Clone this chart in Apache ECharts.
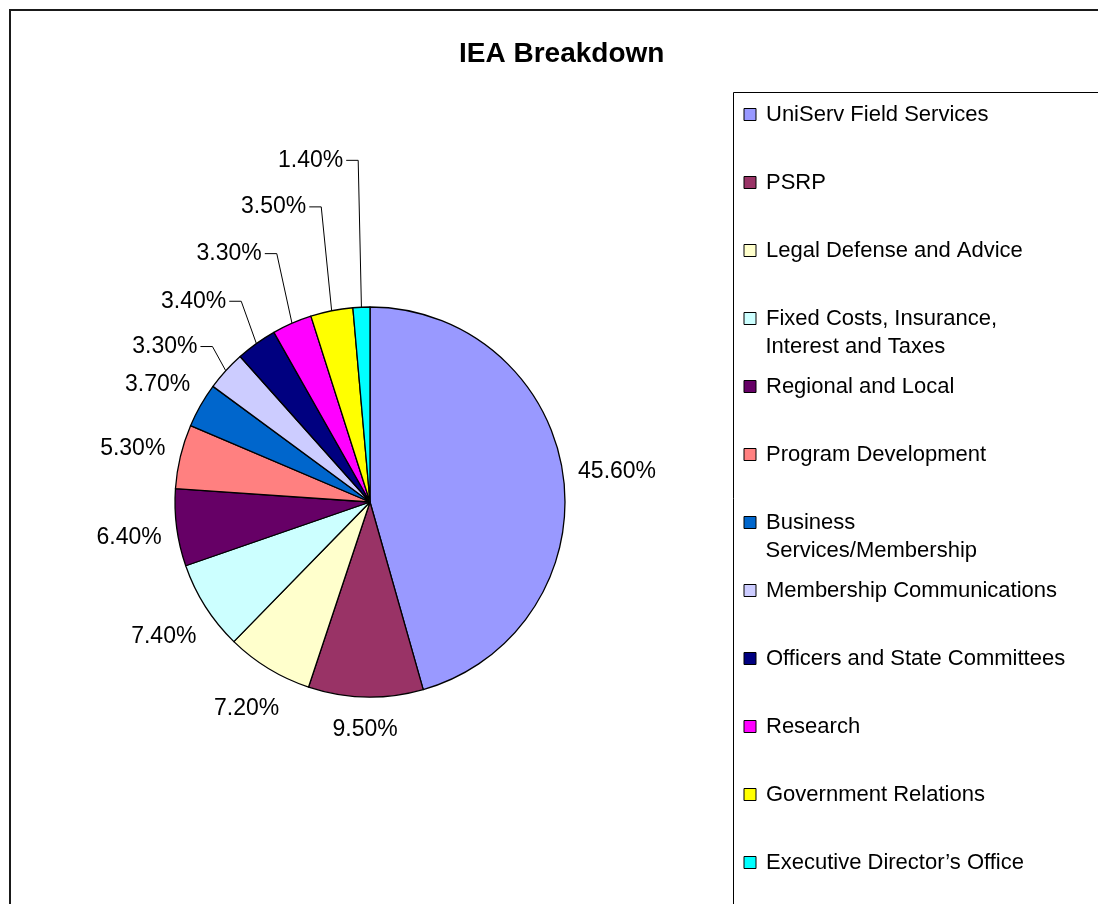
<!DOCTYPE html>
<html>
<head>
<meta charset="utf-8">
<title>IEA Breakdown</title>
<script src="https://cdn.jsdelivr.net/npm/echarts@6/dist/echarts.min.js"></script>
<style>
  html, body { margin: 0; padding: 0; background: #fff; }
  #chart { width: 1098px; height: 904px; }
</style>
</head>
<body>
<div id="chart"></div>
<script>
// budget lines, clockwise from 12 o'clock
const categories = [
  'UniServ Field Services',
  'PSRP',
  'Legal Defense and Advice',
  'Fixed Costs, Insurance,\nInterest and Taxes',
  'Regional and Local',
  'Program Development',
  'Business\nServices/Membership',
  'Membership Communications',
  'Officers and State Committees',
  'Research',
  'Government Relations',
  'Executive Director\u2019s Office'
];
const shares = [45.6, 9.5, 7.2, 7.4, 6.4, 5.3, 3.7, 3.3, 3.4, 3.3, 3.5, 1.4];
const colors = ['#9999FF', '#993366', '#FFFFCC', '#CCFFFF', '#660066', '#FF8080',
  '#0066CC', '#CCCCFF', '#000080', '#FF00FF', '#FFFF00', '#00FFFF'];

// leader lines only on the small slices at the top (0 = none)
const leaderLen = [0, 0, 0, 0, 0, 0, 0, 36, 52, 76, 106, 147];

const FONT = "'Liberation Sans', Arial, sans-serif";
const PIE_CX = 370, PIE_CY = 502, PIE_R = 195;
const LABEL_GAP = 14;

// legend geometry
const LEG_LEFT = 733.5, LEG_TOP = 92.5, LEG_PAD_TOP = 8, LEG_PAD_LEFT = 10;
const LEG_ROW = 68, LEG_TEXT_H = 28, LEG_TEXT_X = LEG_LEFT + LEG_PAD_LEFT + 12 + 5 + 5;
const LEG_FONT = 22;

const chart = echarts.init(document.getElementById('chart'));

const pieData = categories.map((name, i) => ({
  name: name,
  value: shares[i],
  itemStyle: { color: colors[i] },
  labelLine: leaderLen[i]
    ? { length: leaderLen[i], length2: 0 }
    : { length: 10, length2: 0, lineStyle: { opacity: 0 } }
}));

// second lines of the wrapped legend entries
const extraLines = [];
categories.forEach((name, i) => {
  const parts = name.split('\n');
  if (parts.length > 1) {
    extraLines.push({
      type: 'text',
      left: LEG_TEXT_X,
      top: LEG_TOP + LEG_PAD_TOP + i * LEG_ROW + LEG_TEXT_H,
      style: { text: parts[1], fontSize: LEG_FONT, fontFamily: FONT, fill: '#000', lineHeight: LEG_TEXT_H }
    });
  }
});

// distance from the pie centre along u where the label box's nearest point sits at R
function boxDistance(ux, uy, hw, hh, R) {
  let lo = R - 1, hi = R + 200;
  for (let k = 0; k < 40; k++) {
    const D = (lo + hi) / 2;
    const dx = Math.max(Math.abs(D * ux) - hw, 0);
    const dy = Math.max(Math.abs(D * uy) - hh, 0);
    if (Math.hypot(dx, dy) < R) lo = D; else hi = D;
  }
  return (lo + hi) / 2;
}

const option = {
  backgroundColor: '#fff',
  animation: false,
  title: {
    text: 'IEA Breakdown',
    left: 454,
    top: 35,
    textStyle: { fontSize: 28, fontWeight: 'bold', color: '#000', fontFamily: FONT }
  },
  legend: {
    orient: 'vertical',
    left: LEG_LEFT,
    top: LEG_TOP,
    height: 1000,
    padding: [LEG_PAD_TOP, 400, 40, LEG_PAD_LEFT],
    borderColor: '#000',
    borderWidth: 1,
    itemGap: LEG_ROW - LEG_TEXT_H,
    itemWidth: 12,
    itemHeight: 12,
    icon: 'rect',
    selectedMode: false,
    data: categories,
    itemStyle: { borderColor: '#000', borderWidth: 1 },
    formatter: name => name.split('\n')[0],
    textStyle: {
      fontSize: LEG_FONT,
      fontFamily: FONT,
      color: '#000',
      lineHeight: LEG_TEXT_H,
      backgroundColor: 'rgba(255,255,255,0)',
      padding: [0, 0, 0, 5]
    }
  },
  graphic: [
    {
      type: 'rect',
      z: -1,
      shape: { x: 10, y: 10, width: 1200, height: 1000 },
      style: { fill: 'none', stroke: '#1a1a1a', lineWidth: 2 }
    }
  ].concat(extraLines),
  series: [
    {
      type: 'pie',
      center: [PIE_CX, PIE_CY],
      radius: PIE_R,
      startAngle: 90,
      clockwise: true,
      avoidLabelOverlap: false,
      emphasis: { disabled: true },
      itemStyle: { borderColor: '#000', borderWidth: 1.3 },
      label: {
        show: true,
        position: 'outside',
        formatter: p => p.value.toFixed(2) + '%',
        fontSize: 23,
        fontFamily: FONT,
        color: '#000',
        distanceToLabelLine: 4
      },
      labelLine: {
        show: true,
        lineStyle: { color: '#000', width: 1 }
      },
      labelLayout: function (p) {
        if (!p.labelLinePoints) return {};
        const a = p.labelLinePoints[0];
        if (leaderLen[p.dataIndex]) {
          // Excel-style leader: steep run up from the rim, short horizontal tick to the label
          const b = p.labelLinePoints[1];
          const bendX = (a[0] + b[0]) / 2;
          const y = b[1];
          return {
            x: bendX - 15, y: y, align: 'right', verticalAlign: 'middle',
            labelLinePoints: [[a[0], a[1]], [bendX, y], [bendX - 12, y]]
          };
        }
        // label box centred on the slice's mid ray, just clear of the rim
        let ux = a[0] - PIE_CX, uy = a[1] - PIE_CY;
        const n = Math.hypot(ux, uy) || 1;
        ux /= n; uy /= n;
        const hw = p.labelRect.width / 2, hh = p.labelRect.height / 2 + 3;
        const D = boxDistance(ux, uy, hw, hh, PIE_R + LABEL_GAP);
        return { x: PIE_CX + ux * D, y: PIE_CY + uy * D + 4, align: 'center', verticalAlign: 'middle' };
      },
      data: pieData
    }
  ]
};

chart.setOption(option);
</script>
</body>
</html>
